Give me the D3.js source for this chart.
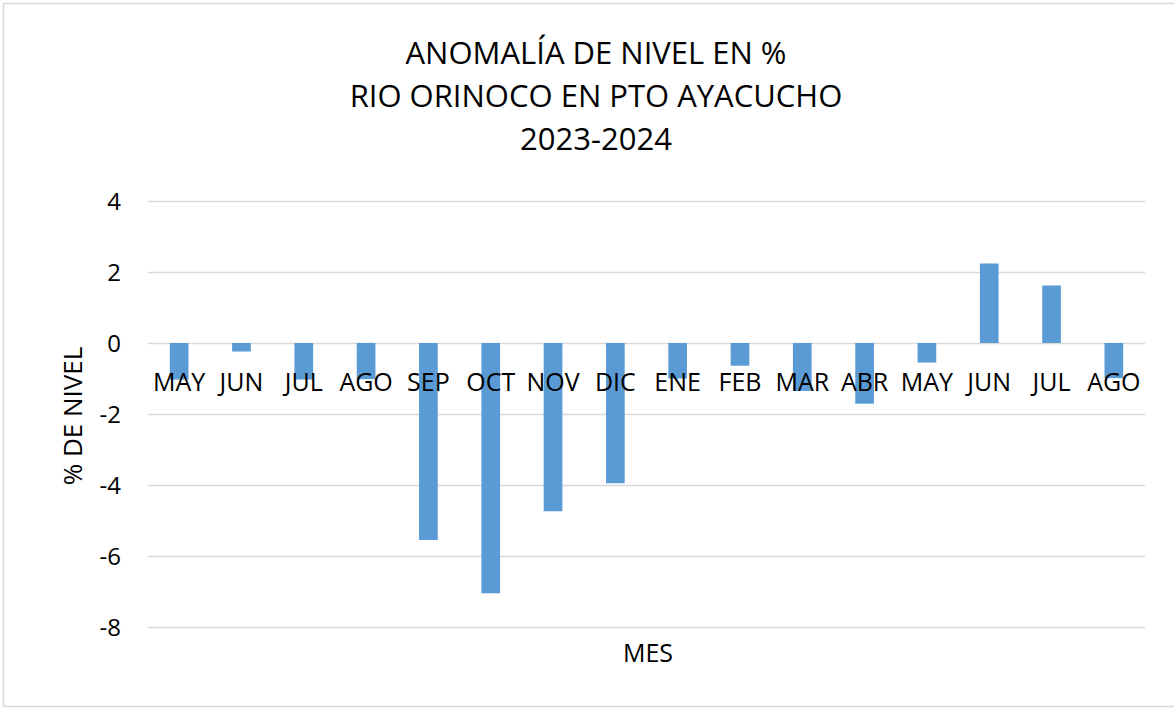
<!DOCTYPE html>
<html>
<head>
<meta charset="utf-8">
<script src="https://cdn.jsdelivr.net/npm/d3@7"></script>
<style>
  body { margin: 0; background: #fff; }
  svg text { font-family: "Open Sans", "Liberation Sans", sans-serif; fill: #000; }
</style>
</head>
<body>
<div id="chart"></div>
<script>
// meses del periodo
const months = ['MAY', 'JUN', 'JUL', 'AGO', 'SEP', 'OCT', 'NOV', 'DIC', 'ENE', 'FEB', 'MAR', 'ABR', 'MAY', 'JUN', 'JUL', 'AGO']
// anomalía de nivel (%)
const anomaly = [-1.03, -0.24, -1.03, -1.02, -5.55, -7.05, -4.74, -3.95, -1.0, -0.64, -1.35, -1.71, -0.55, 2.24, 1.62, -0.99]
const yTicks = [4, 2, 0, -2, -4, -6, -8]
const titleLines = ['ANOMALÍA DE NIVEL EN %', 'RIO ORINOCO EN PTO AYACUCHO', '2023-2024']

const width = 1174
const height = 708
const margin = { top: 201, right: 29, bottom: 81, left: 148 }

const svg = d3.select('#chart')
  .append('svg')
  .attr('width', width)
  .attr('height', height)

// marco del gráfico
svg.append('rect')
  .attr('x', 3.5)
  .attr('y', 3.5)
  .attr('width', width + 10)
  .attr('height', height - 5)
  .attr('fill', '#fff')
  .attr('stroke', '#d9d9d9')
  .attr('stroke-width', 1.5)

const x = d3.scaleBand()
  .domain(d3.range(months.length))
  .range([margin.left, width - margin.right])
  .paddingInner(0.7)
  .paddingOuter(0.35)

const y = d3.scaleLinear()
  .domain([-8, 4])
  .range([height - margin.bottom, margin.top])

// líneas de división
svg.append('g')
  .selectAll('line')
  .data(yTicks)
  .enter()
  .append('line')
  .attr('x1', margin.left)
  .attr('x2', width - margin.right)
  .attr('y1', d => Math.round(y(d)) + 0.5)
  .attr('y2', d => Math.round(y(d)) + 0.5)
  .attr('stroke', '#d9d9d9')
  .attr('stroke-width', 1.5)

// eje Y (guion simple como en Excel)
const yAxis = svg.append('g')
  .attr('transform', `translate(${margin.left - 27},0)`)
  .call(d3.axisLeft(y).tickValues(yTicks).tickSize(0).tickPadding(0).tickFormat(d => String(d)))
yAxis.select('.domain').remove()
yAxis.selectAll('text')
  .style('font-size', '24px')
  .attr('dy', '0.35em')
  .attr('fill', '#000')

// barras
svg.append('g')
  .selectAll('rect')
  .data(anomaly)
  .enter()
  .append('rect')
  .attr('x', (d, i) => x(i))
  .attr('width', x.bandwidth())
  .attr('y', d => y(Math.max(0, d)))
  .attr('height', d => Math.abs(y(d) - y(0)))
  .attr('fill', '#5b9bd5')

// etiquetas de categoría junto a la línea cero
svg.append('g')
  .selectAll('text')
  .data(months)
  .enter()
  .append('text')
  .attr('x', (d, i) => x(i) + x.bandwidth() / 2)
  .attr('y', y(0) + 48)
  .attr('text-anchor', 'middle')
  .style('font-size', '25px')
  .text(d => d)

// título
svg.append('g')
  .selectAll('text')
  .data(titleLines)
  .enter()
  .append('text')
  .attr('x', 596)
  .attr('y', (d, i) => 64 + i * 43)
  .attr('text-anchor', 'middle')
  .style('font-size', '31px')
  .text(d => d)

// títulos de ejes
svg.append('text')
  .attr('transform', `translate(82,${(margin.top + height - margin.bottom) / 2 + 2}) rotate(-90)`)
  .attr('text-anchor', 'middle')
  .style('font-size', '26px')
  .text('% DE NIVEL')

svg.append('text')
  .attr('x', 648)
  .attr('y', 662)
  .attr('text-anchor', 'middle')
  .style('font-size', '25px')
  .text('MES')
</script>
</body>
</html>
